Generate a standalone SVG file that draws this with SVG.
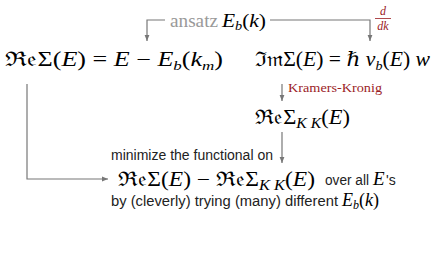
<svg xmlns="http://www.w3.org/2000/svg" width="436" height="270" viewBox="0 0 436 270">
<defs>
<style>
.m{font-family:"Liberation Serif","DejaVu Serif",serif;fill:#000}
.i{font-style:italic}
.s{font-family:"Liberation Sans","DejaVu Sans",sans-serif;font-size:14px;fill:#222}
.red{font-family:"Liberation Serif","DejaVu Serif",serif;fill:#9b1c1f}
.g{fill:#999}
.ln{stroke:#777;stroke-width:1.2;fill:none}
</style>
<marker id="ah" viewBox="0 0 10 10" refX="10" refY="5" markerWidth="6" markerHeight="6" orient="auto" markerUnits="userSpaceOnUse">
<path d="M0,1 L10,5 L0,9 Z" fill="#777"/>
</marker>
</defs>
<rect width="436" height="270" fill="#fff"/>
<g id="ansatz">
<text class="m g" x="170" y="27" style="font-size:18px" textLength="48" lengthAdjust="spacingAndGlyphs">ansatz</text>
<text class="m" x="222" y="27" style="font-size:18px" textLength="44" lengthAdjust="spacingAndGlyphs"><tspan class="i">E</tspan><tspan class="i" style="font-size:12px" dy="3">b</tspan><tspan dy="-3">(</tspan><tspan class="i">k</tspan>)</text>
</g>
<g id="ddk">
<text class="red i" x="383" y="15" style="font-size:12px" text-anchor="middle">d</text>
<line x1="375" y1="18.5" x2="391" y2="18.5" stroke="#9b1c1f" stroke-width="0.8"/>
<text class="red i" x="383" y="30" style="font-size:12px" text-anchor="middle">dk</text>
</g>
<g id="reSigma">
<text class="m" x="5" y="66" style="font-size:20px" textLength="218" lengthAdjust="spacingAndGlyphs">ℜ𝔢Σ(<tspan class="i">E</tspan>) = <tspan class="i">E</tspan> − <tspan class="i">E</tspan><tspan class="i" style="font-size:13px" dy="4">b</tspan><tspan dy="-4">(</tspan><tspan class="i">k</tspan><tspan class="i" style="font-size:13px" dy="4">m</tspan><tspan dy="-4">)</tspan></text>
</g>
<g id="imSigma">
<text class="m" x="255" y="66" style="font-size:20px" textLength="175" lengthAdjust="spacingAndGlyphs">ℑ𝔪Σ(<tspan class="i">E</tspan>) = ℏ <tspan class="i">v</tspan><tspan class="i" style="font-size:13px" dy="4">b</tspan><tspan dy="-4">(</tspan><tspan class="i">E</tspan>) <tspan class="i">w</tspan></text>
</g>
<g id="kk-label">
<text class="red" x="288" y="92" style="font-size:13px" textLength="94" lengthAdjust="spacingAndGlyphs">Kramers-Kronig</text>
</g>
<g id="reSigmaKK">
<text class="m" x="255" y="124" style="font-size:20px" textLength="95" lengthAdjust="spacingAndGlyphs">ℜ𝔢Σ<tspan class="i" style="font-size:14px" dy="4">K K</tspan><tspan dy="-4">(</tspan><tspan class="i">E</tspan>)</text>
</g>
<g id="minimize">
<text class="s" x="111" y="160" textLength="162" lengthAdjust="spacingAndGlyphs">minimize the functional on</text>
<text class="m" x="118" y="186" style="font-size:20px" textLength="197" lengthAdjust="spacingAndGlyphs">ℜ𝔢Σ(<tspan class="i">E</tspan>) − ℜ𝔢Σ<tspan class="i" style="font-size:14px" dy="4">K K</tspan><tspan dy="-4">(</tspan><tspan class="i">E</tspan>)</text>
<text class="s" x="325" y="185" textLength="44" lengthAdjust="spacingAndGlyphs">over all</text>
<text class="m i" x="373" y="185" style="font-size:19px">E</text>
<text class="s" x="386" y="185">'s</text>
<text class="s" x="111" y="206" textLength="227" lengthAdjust="spacingAndGlyphs">by (cleverly) trying (many) different</text>
<text class="m" x="342" y="206" style="font-size:18px"><tspan class="i">E</tspan><tspan class="i" style="font-size:12px" dy="3">b</tspan><tspan dy="-3">(</tspan><tspan class="i">k</tspan>)</text>
</g>
<g id="connectors">
<path class="ln" d="M165,20 H147 V41" marker-end="url(#ah)"/>
<path class="ln" d="M270,20 H370 V41" marker-end="url(#ah)"/>
<path class="ln" d="M282,84 V101" marker-end="url(#ah)"/>
<path class="ln" d="M282,132 V163" marker-end="url(#ah)"/>
<path class="ln" d="M27,84 V179 H108" marker-end="url(#ah)"/>
</g>
</svg>
